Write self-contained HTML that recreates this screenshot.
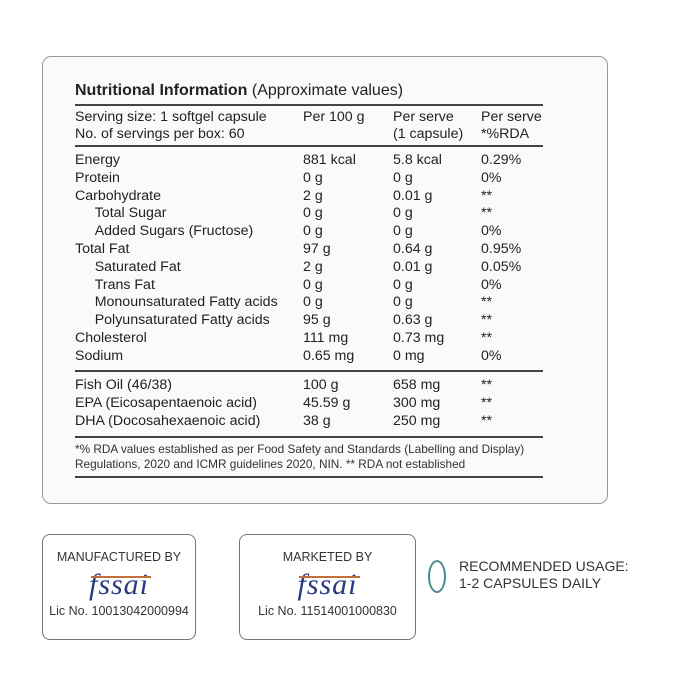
<!DOCTYPE html><html><head><style>
body{margin:0;width:679px;height:679px;background:#fff;position:relative;font-family:"Liberation Sans",sans-serif;color:#222;overflow:hidden}
.box{position:absolute;left:42px;top:56px;width:564px;height:446px;border:1px solid #9a9a9a;border-radius:9px;background:#f9fafc}
.t{position:absolute;font-size:14.2px;white-space:nowrap;line-height:16.5px}
.l{position:absolute;left:75px;width:468px;height:1.5px;background:#444}
.fb{position:absolute;border:1px solid #777;border-radius:8px;background:#fff;width:152px;height:104px;top:534px;text-align:center;font-size:12.5px;color:#333}
.logo{font-family:"Liberation Serif",serif;font-style:italic;font-size:30px;color:#2b3a80;position:relative;display:inline-block;margin-top:4px;letter-spacing:1px}
.logo:before{content:"";position:absolute;left:2px;right:-2px;top:8px;height:1.5px;background:#c0703a}
</style></head><body>
<div class="box"></div>
<div class="t" style="left:75px;top:83px;font-size:16px"><b>Nutritional Information</b> (Approximate values)</div>
<div class="l" style="top:104px"></div>
<div class="t" style="left:75px;top:109px">Serving size: 1 softgel capsule<br>No. of servings per box: 60</div>
<div class="t" style="left:303px;top:109px">Per 100 g</div>
<div class="t" style="left:393px;top:109px">Per serve<br>(1 capsule)</div>
<div class="t" style="left:481px;top:109px">Per serve<br>*%RDA</div>
<div class="l" style="top:145px"></div>
<div class="t" style="left:75px;top:152px;line-height:17.8px">Energy<br>Protein<br>Carbohydrate<br>&nbsp;&nbsp;&nbsp;&nbsp;&nbsp;Total Sugar<br>&nbsp;&nbsp;&nbsp;&nbsp;&nbsp;Added Sugars (Fructose)<br>Total Fat<br>&nbsp;&nbsp;&nbsp;&nbsp;&nbsp;Saturated Fat<br>&nbsp;&nbsp;&nbsp;&nbsp;&nbsp;Trans Fat<br>&nbsp;&nbsp;&nbsp;&nbsp;&nbsp;Monounsaturated Fatty acids<br>&nbsp;&nbsp;&nbsp;&nbsp;&nbsp;Polyunsaturated Fatty acids<br>Cholesterol<br>Sodium</div>
<div class="t" style="left:303px;top:152px;line-height:17.8px">881 kcal<br>0 g<br>2 g<br>0 g<br>0 g<br>97 g<br>2 g<br>0 g<br>0 g<br>95 g<br>111 mg<br>0.65 mg</div>
<div class="t" style="left:393px;top:152px;line-height:17.8px">5.8 kcal<br>0 g<br>0.01 g<br>0 g<br>0 g<br>0.64 g<br>0.01 g<br>0 g<br>0 g<br>0.63 g<br>0.73 mg<br>0 mg</div>
<div class="t" style="left:481px;top:152px;line-height:17.8px">0.29%<br>0%<br>**<br>**<br>0%<br>0.95%<br>0.05%<br>0%<br>**<br>**<br>**<br>0%</div>
<div class="l" style="top:370px"></div>
<div class="t" style="left:75px;top:377px;line-height:17.8px">Fish Oil (46/38)<br>EPA (Eicosapentaenoic acid)<br>DHA (Docosahexaenoic acid)</div>
<div class="t" style="left:303px;top:377px;line-height:17.8px">100 g<br>45.59 g<br>38 g</div>
<div class="t" style="left:393px;top:377px;line-height:17.8px">658 mg<br>300 mg<br>250 mg</div>
<div class="t" style="left:481px;top:377px;line-height:17.8px">**<br>**<br>**</div>
<div class="l" style="top:436px"></div>
<div class="t" style="left:75px;top:442px;font-size:11.8px;line-height:15px;color:#333">*% RDA values established as per Food Safety and Standards (Labelling and Display)<br>Regulations, 2020 and ICMR guidelines 2020, NIN. ** RDA not established</div>
<div class="l" style="top:476px"></div>
<div class="fb" style="left:42px"><div style="margin-top:15px">MANUFACTURED BY</div><div class="logo">fssai</div><div style="margin-top:2px">Lic No. 10013042000994</div></div>
<div class="fb" style="left:239px;width:175px"><div style="margin-top:15px">MARKETED BY</div><div class="logo">fssai</div><div style="margin-top:2px">Lic No. 11514001000830</div></div>
<div style="position:absolute;left:428px;top:560px;width:14px;height:29px;border:2px solid #4a8a90;border-radius:50%"></div>
<div class="t" style="left:459px;top:558px;font-size:14px;line-height:17px;color:#333">RECOMMENDED USAGE:<br>1-2 CAPSULES DAILY</div>
</body></html>
